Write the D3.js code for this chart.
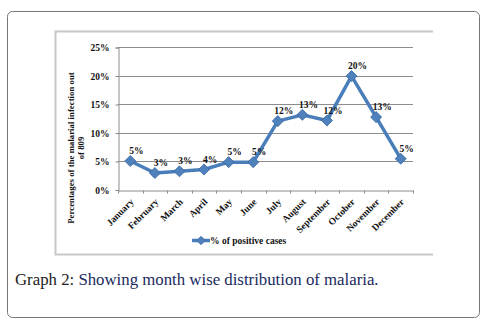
<!DOCTYPE html>
<html>
<head>
<meta charset="utf-8">
<script src="https://cdn.jsdelivr.net/npm/d3@7"></script>
<style>
  body { margin: 0; background: #fff; }
  svg { display: block; }
</style>
</head>
<body>
<svg id="chart" width="484" height="323"></svg>
<script>
// chart data
const months = ['January', 'February', 'March', 'April', 'May', 'June', 'July',
  'August', 'September', 'October', 'November', 'December'];
const positivePct = [5.0, 2.9, 3.2, 3.5, 4.8, 4.8, 12.0, 13.1, 12.1, 19.9, 12.7, 5.4];
const pointLabels = ['5%', '3%', '3%', '4%', '5%', '5%', '12%', '13%', '12%', '20%', '13%', '5%'];
const yTicks = [0, 5, 10, 15, 20, 25];
const seriesName = '% of positive cases';
const yTitle = ['Percentages of the malarial infection out', 'of 809'];
const caption = 'Showing month wise distribution of malaria.';

const svg = d3.select('#chart');
const serif = '"Liberation Serif", "Times New Roman", serif';
const blue = '#4a7ebb';

// outer frame
svg.append('rect')
  .attr('x', 7.5).attr('y', 11.5).attr('width', 472).attr('height', 306)
  .attr('rx', 5).attr('fill', 'none').attr('stroke', '#777').attr('stroke-width', 1);

// chart box (left, top, bottom edges)
svg.append('path')
  .attr('d', 'M433,31.5 H55.5 V254.5 H433')
  .attr('fill', 'none').attr('stroke', '#c8c8c8').attr('stroke-width', 2);

const plot = { left: 118, right: 413, top: 47, bottom: 189.5 };

const x = d3.scaleBand().domain(months).range([plot.left, plot.right]);
const y = d3.scaleLinear().domain([0, 25]).range([plot.bottom, plot.top]);

// gridlines
svg.append('g')
  .selectAll('line')
  .data(yTicks.filter(d => d > 0))
  .join('line')
  .attr('x1', plot.left).attr('x2', plot.right)
  .attr('y1', d => Math.round(y(d)) + 0.5).attr('y2', d => Math.round(y(d)) + 0.5)
  .attr('stroke', '#8c8c8c').attr('stroke-width', 1);

// y axis
const yAxis = svg.append('g')
  .attr('transform', `translate(${plot.left + 0.5},0.5)`)
  .call(d3.axisLeft(y).tickValues(yTicks).tickFormat(d => d + '%').tickSize(3).tickPadding(6));
yAxis.select('.domain').attr('stroke', '#8c8c8c');
yAxis.selectAll('.tick line').attr('stroke', '#8c8c8c');
yAxis.selectAll('text')
  .attr('font-family', serif).attr('font-size', 9.5).attr('font-weight', 'bold').attr('fill', '#111');

// x axis
const xAxis = svg.append('g')
  .attr('transform', `translate(0,${Math.round(plot.bottom) + 0.5})`)
  .call(d3.axisBottom(x).tickSize(0).tickPadding(0));
xAxis.select('.domain').attr('stroke', '#8c8c8c');
// tick marks on category boundaries
xAxis.selectAll('.boundary')
  .data(months.map((m, i) => plot.left + i * x.step()).concat([plot.right]))
  .join('line')
  .attr('class', 'boundary')
  .attr('x1', d => Math.round(d) + 0.5).attr('x2', d => Math.round(d) + 0.5)
  .attr('y1', 0).attr('y2', 3)
  .attr('stroke', '#8c8c8c');
xAxis.selectAll('.tick text')
  .attr('font-family', serif).attr('font-size', 9.5).attr('font-weight', 'bold').attr('fill', '#111')
  .attr('text-anchor', 'end')
  .attr('dy', 0)
  .attr('transform', 'translate(4,12) rotate(-45)');

// y title
const yt = svg.append('text')
  .attr('transform', 'translate(74,148) rotate(-90)')
  .attr('text-anchor', 'middle')
  .attr('font-family', serif).attr('font-size', 8.8).attr('font-weight', 'bold').attr('fill', '#111');
yt.selectAll('tspan').data(yTitle).join('tspan')
  .attr('x', 0).attr('dy', (d, i) => i === 0 ? 0 : 10)
  .text(d => d);

// series line
const line = d3.line()
  .x((d, i) => x(months[i]) + x.bandwidth() / 2)
  .y(d => y(d));
svg.append('path')
  .datum(positivePct)
  .attr('d', line)
  .attr('fill', 'none').attr('stroke', blue).attr('stroke-width', 3.5)
  .attr('stroke-linejoin', 'round');

// diamond markers
const diamond = d3.symbol().type(d3.symbolDiamond2).size(78);
svg.append('g')
  .selectAll('path')
  .data(positivePct)
  .join('path')
  .attr('transform', (d, i) => `translate(${x(months[i]) + x.bandwidth() / 2},${y(d)})`)
  .attr('d', diamond)
  .attr('fill', '#4f81bd').attr('stroke', '#3a679e').attr('stroke-width', 0.8);

// data labels
svg.append('g')
  .selectAll('text')
  .data(positivePct)
  .join('text')
  .attr('x', (d, i) => x(months[i]) + x.bandwidth() / 2 + 6)
  .attr('y', d => y(d) - 7)
  .attr('text-anchor', 'middle')
  .attr('font-family', serif).attr('font-size', 9.5).attr('font-weight', 'bold').attr('fill', '#111')
  .text((d, i) => pointLabels[i]);

// legend
const lg = svg.append('g').attr('transform', 'translate(192,240.5)');
lg.append('line').attr('x1', 0).attr('x2', 18).attr('y1', 0).attr('y2', 0)
  .attr('stroke', blue).attr('stroke-width', 3.5);
lg.append('path').attr('transform', 'translate(9,0)').attr('d', d3.symbol().type(d3.symbolDiamond2).size(45))
  .attr('fill', '#4f81bd').attr('stroke', '#3a679e').attr('stroke-width', 0.8);
lg.append('text').attr('x', 18).attr('y', 3.5)
  .attr('font-family', serif).attr('font-size', 9.5).attr('font-weight', 'bold').attr('fill', '#111')
  .text(seriesName);

// caption
const cap = svg.append('text')
  .attr('x', 15).attr('y', 285)
  .attr('font-family', serif).attr('font-size', 16.8);
cap.append('tspan').attr('fill', '#222').text('Graph 2: ');
cap.append('tspan').attr('fill', '#1a2a5e').text(caption);
</script>
</body>
</html>
